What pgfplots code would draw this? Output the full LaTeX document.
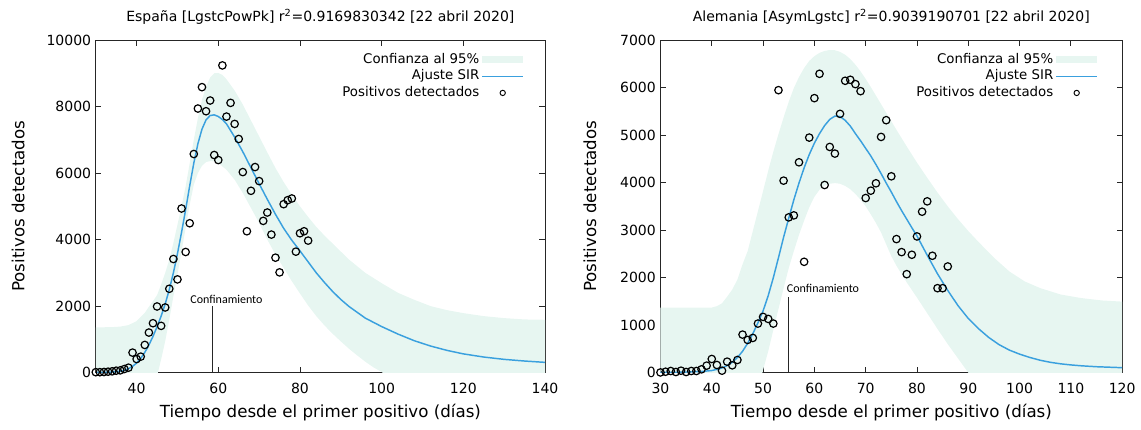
\documentclass[border=0pt]{standalone}
\usepackage{fontspec}
\setmainfont{DejaVu Sans}
\newfontfamily\confont{Carlito}
\usepackage{pgfplots}
\pgfplotsset{compat=1.18}
\definecolor{bandc}{RGB}{231,246,241}
\definecolor{fitc}{RGB}{58,160,222}
\pgfplotsset{
  myaxis/.style={
    scale only axis,
    height=249.5pt,
    axis line style={line width=0.7pt, black!85},
    tick style={line width=0.6pt, black!85},
    scaled y ticks=false,
    /pgf/number format/assume math mode=true,
    /pgf/number format/1000 sep={},
    tick label style={font=\fontsize{10.5}{12}\selectfont},
    xticklabel style={yshift=-4.5pt},
    label style={font=\fontsize{12.5}{15}\selectfont},
    title style={font=\fontsize{10.5}{12}\selectfont, at={(0.5,1.045)}, anchor=center},
    xlabel style={at={(axis description cs:0.5,-0.121)}, anchor=center},
    legend style={draw=none, fill=none, font=\fontsize{10}{12}\selectfont,
      anchor=north east, nodes={inner sep=1.5pt, text height=7.5pt, text depth=2pt}},
    legend cell align={right},
    legend plot pos=right,
  },
  bandp/.style={fill=bandc, draw=none,
      legend image code/.code={\fill[##1] (0pt,-2.5pt) rectangle (31pt,2.5pt);}},
  fitp/.style={color=fitc, line width=1.1pt, no marks,
      legend image code/.code={\draw[##1] (0pt,0pt) -- (31pt,0pt);}},
  ptsp/.style={only marks, mark=o, mark size=2.8pt, black, mark options={line width=0.9pt},
      legend image code/.code={\draw[##1, mark size=2pt, mark options={line width=0.7pt}] plot coordinates {(15.5pt,0pt)};}},
  confp/.style={black!85, line width=0.7pt, no marks, forget plot},
}
\begin{document}
\begin{tikzpicture}
% ---------------- Spain ----------------
\begin{axis}[myaxis, width=336.9pt, at={(0pt,0pt)},
  xmin=30, xmax=140, ymin=0, ymax=10000,
  xtick={40,60,...,140}, ytick={0,2000,...,10000},
  title={España [LgstcPowPk] r\textsuperscript{2}=0.9169830342 [22 abril 2020]},
  xlabel={Tiempo desde el primer positivo (días)},
  ylabel={Positivos detectados},
  ylabel style={at={(axis description cs:-0.173,0.5)}, anchor=center},
  legend style={at={(0.963,0.975)}},
]
\addplot[bandp] coordinates {
(30,1360)(34,1370)(36,1385)(38,1430)(40,1550)(42,1800)(43,1980)(44,2150)(45,2330)(46,2650)(47,3000)(48,3400)(49,3900)(50,4450)(51,5000)(52,5600)(53,6300)(54,7000)(55,7650)(56,8200)(57,8600)(58,8870)(59,9000)(60,9010)(61,8950)(62,8820)(64,8480)(66,8060)(68,7580)(70,7100)(72,6620)(74,6150)(76,5730)(78,5350)(80,5000)(82,4680)(84,4380)(86,4120)(88,3880)(90,3640)(92,3400)(96,3000)(100,2690)(104,2400)(108,2190)(112,2000)(116,1880)(120,1790)(125,1700)(130,1640)(135,1600)(140,1590)
(140,-1000)(110,-1000)(102,-150)(100,20)(98,160)(96,330)(94,520)(92,720)(90,940)(88,1170)(86,1420)(84,1700)(82,2020)(80,2380)(78,2750)(76,3150)(74,3550)(72,4000)(70,4500)(68,4950)(66,5400)(64,5800)(62,6100)(60,6300)(59,6350)(58,6360)(57,6330)(56,6220)(55,6000)(54,5650)(53,5050)(52,4350)(51,3650)(50,2950)(49,2300)(48,1600)(47,950)(46,400)(45,-100)(44,-600)(30,-600)
};
\addlegendentry{Confianza al 95\%}
\addplot[fitp] coordinates {
(30,5)(32,10)(34,20)(36,45)(37,70)(38,120)(39,190)(40,290)(41,430)(42,610)(43,830)(44,1090)(45,1380)(46,1700)(47,2070)(48,2500)(49,3000)(50,3580)(51,4220)(52,4900)(53,5620)(54,6300)(55,6880)(56,7320)(57,7600)(58,7730)(59,7750)(60,7700)(61,7610)(62,7480)(64,7080)(66,6640)(68,6160)(70,5680)(72,5210)(74,4760)(76,4340)(78,3980)(80,3660)(82,3330)(84,3000)(86,2710)(88,2440)(90,2200)(92,1990)(96,1640)(100,1386)(104,1160)(108,960)(112,800)(116,670)(120,565)(125,470)(130,400)(135,350)(140,310)
};
\addlegendentry{Ajuste SIR}
\addplot[ptsp] coordinates {
(30,15)(31,15)(32,20)(33,30)(34,40)(35,60)(36,70)(37,110)(38,150)(39,603)(40,410)(41,482)(42,834)(43,1206)(44,1487)(45,1990)(46,1407)(47,1960)(48,2522)(49,3417)(50,2804)(51,4935)(52,3628)(53,4492)(54,6573)(55,7940)(56,8583)(57,7859)(58,8181)(59,6543)(60,6392)(61,9236)(62,7698)(63,8110)(64,7477)(65,7025)(66,6030)(67,4251)(68,5467)(69,6181)(70,5759)(71,4563)(72,4814)(73,4151)(74,3457)(75,3015)(76,5065)(77,5186)(78,5236)(79,3638)(80,4191)(81,4251)(82,3970)
};
\addlegendentry{Positivos detectados}
\addplot[confp] coordinates {(58.5,0)(58.5,2000)};
\node[anchor=west, inner sep=0pt, font=\confont\fontsize{9}{10}\selectfont] at (axis cs:53.1,2210) {Confinamiento};
\end{axis}
% ---------------- Germany ----------------
\begin{axis}[myaxis, width=346.3pt, at={(423.5pt,0pt)},
  xmin=30, xmax=120, ymin=0, ymax=7000,
  xtick={30,40,...,120}, ytick={0,1000,...,7000},
  title={Alemania [AsymLgstc] r\textsuperscript{2}=0.9039190701 [22 abril 2020]},
  xlabel={Tiempo desde el primer positivo (días)},
  ylabel={Positivos detectados},
  ylabel style={at={(axis description cs:-0.153,0.5)}, anchor=center},
  legend style={at={(0.957,0.975)}},
]
\addplot[bandp] coordinates {
(30,1370)(40,1370)(41,1400)(42,1460)(43,1600)(44,1750)(45,1960)(46,2280)(47,2560)(48,2980)(49,3400)(50,3820)(51,4250)(52,4650)(53,5020)(54,5370)(55,5700)(56,5990)(57,6220)(58,6410)(59,6560)(60,6660)(61,6730)(62,6770)(63,6790)(64,6785)(65,6750)(66,6690)(67,6600)(68,6480)(69,6340)(70,6180)(71,6010)(72,5830)(73,5650)(74,5470)(75,5290)(76,5110)(78,4760)(80,4420)(82,4100)(84,3790)(86,3500)(88,3230)(90,2980)(92,2750)(95,2420)(98,2130)(101,1920)(104,1780)(108,1645)(112,1570)(116,1520)(120,1495)
(120,-800)(93,-800)(92,-280)(90,0)(88,300)(86,600)(84,920)(82,1250)(80,1580)(78,1900)(76,2250)(75,2450)(74,2700)(73,2950)(72,3150)(71,3330)(70,3500)(69,3640)(68,3760)(67,3860)(66,3930)(65,3975)(64,3990)(63,3975)(62,3940)(61,3850)(60,3700)(59,3480)(58,3200)(57,2900)(56,2560)(55,2200)(54,1780)(53,1340)(52,900)(51,450)(50,60)(49.5,-150)(49,-600)(30,-600)
};
\addlegendentry{Confianza al 95\%}
\addplot[fitp] coordinates {
(30,5)(34,10)(38,25)(40,45)(41,70)(42,100)(43,150)(44,220)(45,320)(46,450)(47,620)(48,820)(49,1050)(50,1300)(51,1620)(52,2000)(53,2420)(54,2850)(55,3250)(56,3640)(57,3990)(58,4310)(59,4590)(60,4830)(61,5030)(62,5200)(63,5330)(64,5400)(65,5390)(66,5310)(67,5190)(68,5030)(69,4880)(70,4720)(71,4560)(72,4380)(73,4190)(74,3990)(75,3800)(76,3600)(77,3410)(78,3230)(79,3050)(80,2876)(82,2470)(84,2080)(86,1730)(88,1410)(90,1140)(92,925)(94,740)(96,590)(98,475)(100,390)(102,320)(104,262)(106,218)(108,186)(110,163)(112,145)(115,125)(120,105)
};
\addlegendentry{Ajuste SIR}
\addplot[ptsp] coordinates {
(30,5)(31,20)(32,35)(33,14)(34,42)(35,14)(36,35)(37,35)(38,70)(39,148)(40,288)(41,162)(42,42)(43,232)(44,155)(45,267)(46,801)(47,689)(48,731)(49,1033)(50,1174)(51,1131)(52,1033)(53,5945)(54,4041)(55,3268)(56,3310)(57,4427)(58,2333)(59,4947)(60,5777)(61,6289)(62,3949)(63,4750)(64,4610)(65,5446)(66,6142)(67,6163)(68,6072)(69,5924)(70,3675)(71,3830)(72,3985)(73,4961)(74,5313)(75,4132)(76,2811)(77,2537)(78,2073)(79,2481)(80,2867)(81,3387)(82,3605)(83,2460)(84,1778)(85,1778)(86,2235)
};
\addlegendentry{Positivos detectados}
\addplot[confp] coordinates {(55,0)(55,1600)};
\node[anchor=west, inner sep=0pt, font=\confont\fontsize{9}{10}\selectfont] at (axis cs:54.6,1783) {Confinamiento};
\end{axis}
\pgfresetboundingbox
\path[use as bounding box] (-71.85pt,-42.98pt) rectangle (783.9pt,279.5pt);
\end{tikzpicture}
\end{document}
